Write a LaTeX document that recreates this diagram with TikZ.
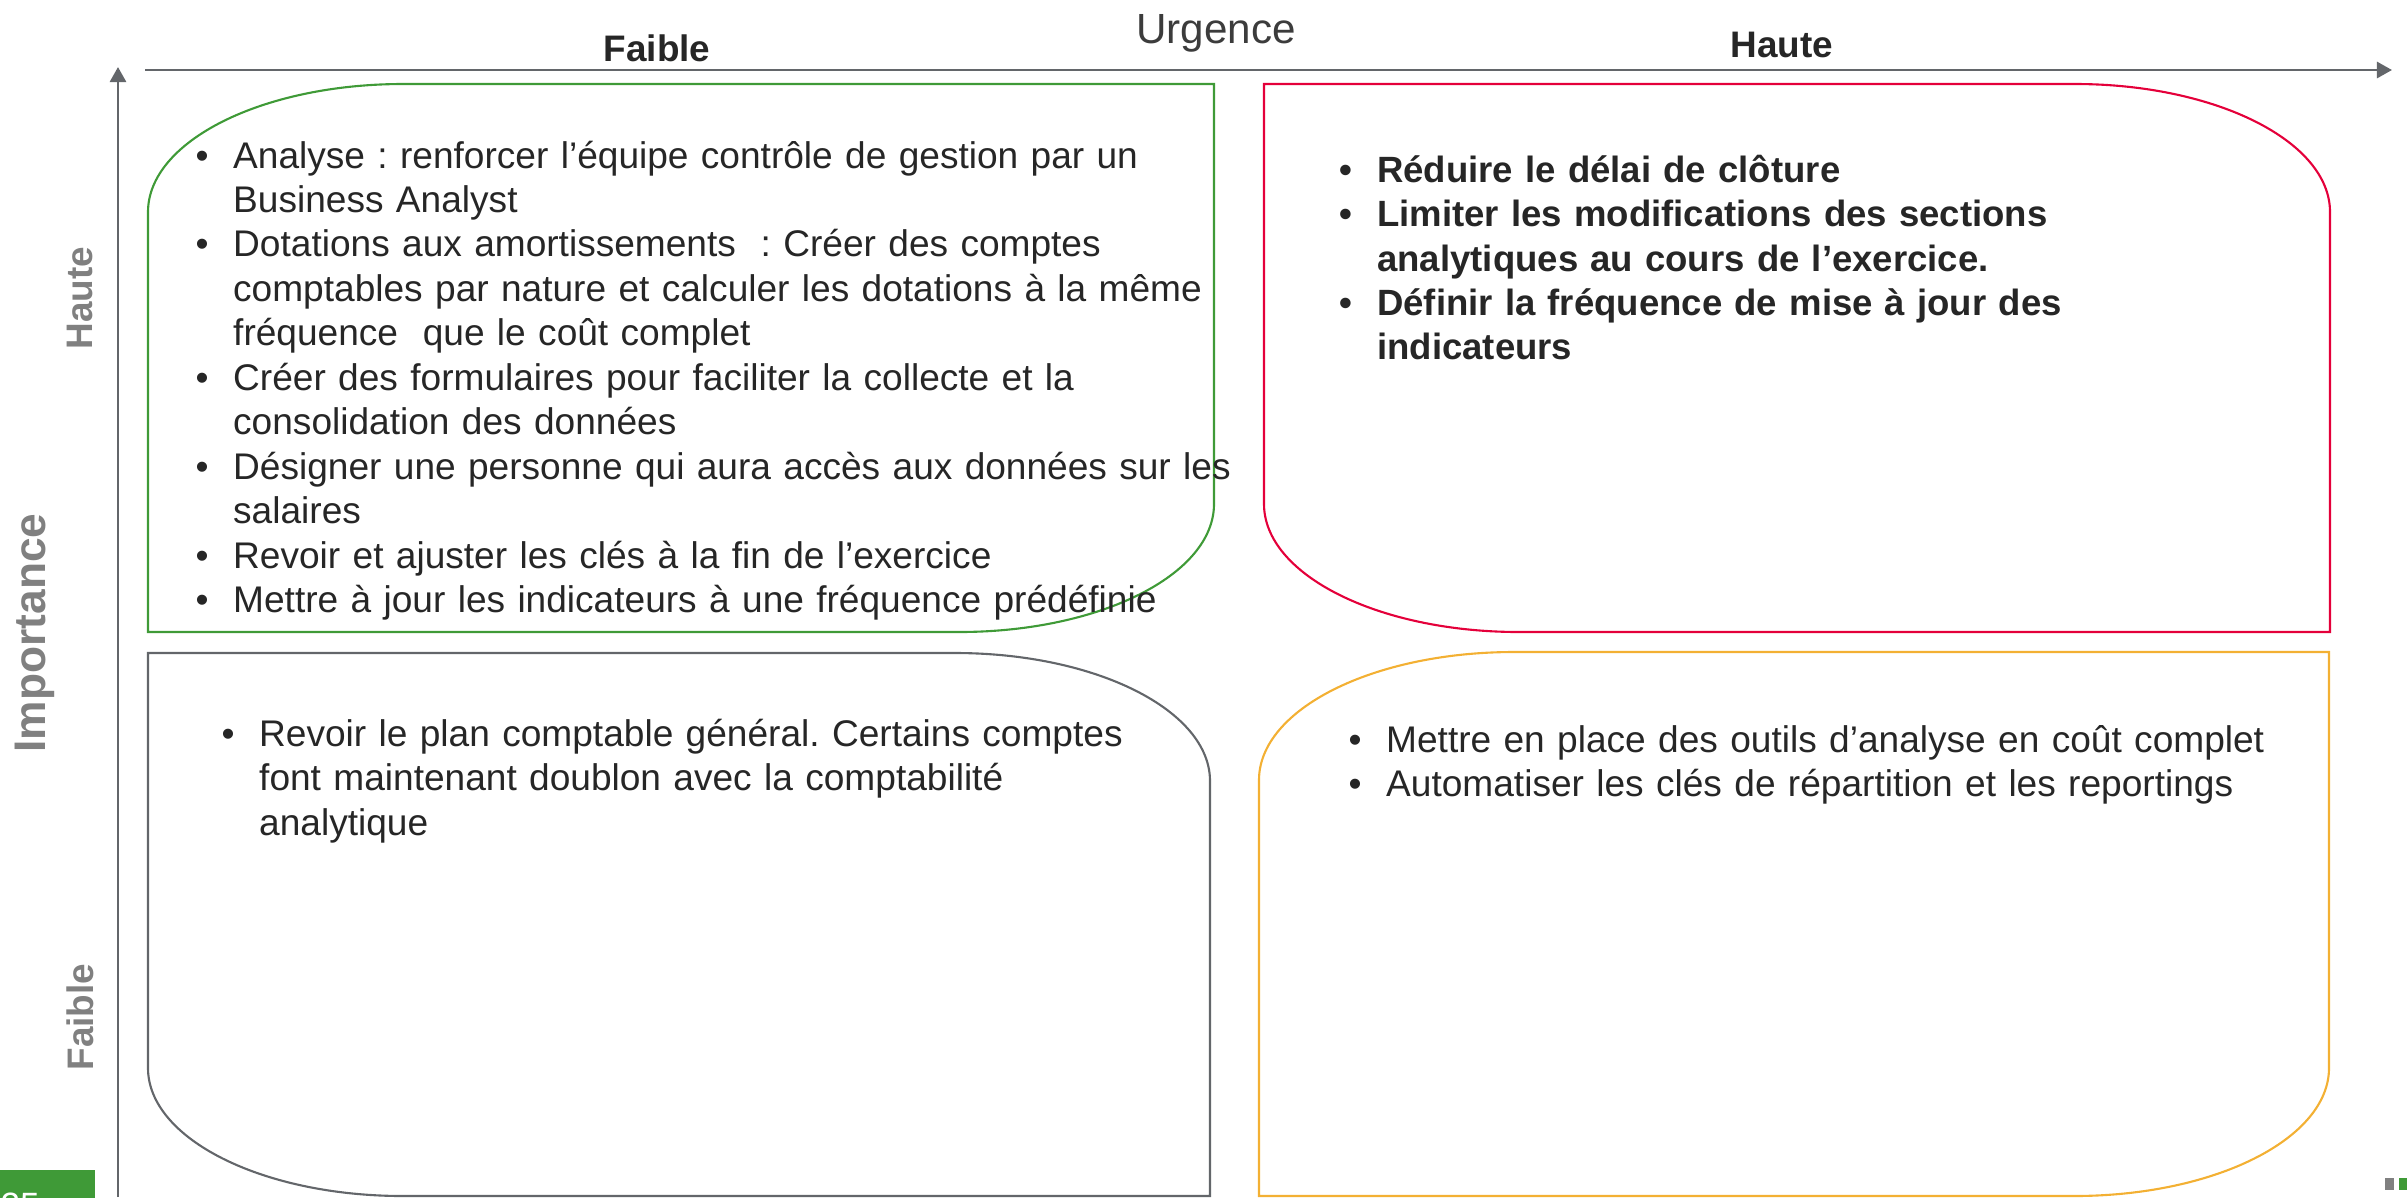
\documentclass[tikz,border=0pt]{standalone}
\usepackage{fontspec}
\setmainfont{Liberation Sans}
\usetikzlibrary{arrows.meta}
\definecolor{kgreen}{RGB}{63,154,55}
\definecolor{kred}{RGB}{228,0,58}
\definecolor{kgrey}{RGB}{99,102,106}
\definecolor{korange}{RGB}{243,176,51}
\definecolor{ktext}{RGB}{38,38,38}
\definecolor{klabel}{RGB}{128,128,128}
\frenchspacing
\newcommand{\bpoint}[1]{\hangindent=3.75mm\hangafter=1\noindent\makebox[3.75mm][l]{\textbullet}#1\par}
\tikzset{
  quad/.style={line width=0.6pt},
  qgreen/.style={quad, draw=kgreen}, qred/.style={quad, draw=kred},
  qgrey/.style={quad, draw=kgrey}, qorange/.style={quad, draw=korange},
  items/.style={anchor=base west, inner sep=0pt, text width=11cm, text=ktext,
    font=\fontsize{10.55}{12.66}\selectfont},
  axis/.style={draw=kgrey, line width=0.75pt, -{Triangle[length=4.3pt, width=4.6pt]}},
  toplabel/.style={inner sep=0pt, text=ktext, font=\fontsize{10.5}{12}\selectfont\bfseries},
  sidelabel/.style={inner sep=0pt, rotate=90, text=klabel, font=\fontsize{10.5}{12}\selectfont\bfseries},
}

\begin{document}
\begin{tikzpicture}
    \useasboundingbox (0,0) rectangle (24.07,-11.97);
    % axes
    \coordinate (vbot) at (1.18,-11.97);
    \coordinate (vtop) at (1.18,-0.67);
    \coordinate (hleft) at (1.45,-0.70);
    \coordinate (hright) at (23.92,-0.70);
    \draw[axis] (vbot) -- (vtop);
    \draw[axis] (hleft) -- (hright);
    \node[inner sep=0pt, text=ktext!90, font=\fontsize{12}{14}\selectfont] (urg) at (12.16,-0.33) {Urgence};
    \node[toplabel] (lowurg) at (6.57,-0.48) {Faible};
    \node[toplabel] (highurg) at (17.82,-0.45) {Haute};
    \node[sidelabel] (highimp) at (0.80,-2.98) {Haute};
    \node[sidelabel, font=\fontsize{12.6}{15}\selectfont\bfseries] (imp) at (0.35,-6.33) {Importance};
    \node[sidelabel] (lowimp) at (0.80,-10.17) {Faible};
    % quadrants
    \draw[qgreen] (1.48,-2.12) arc[start angle=180, end angle=90, x radius=2.55, y radius=1.28]
      -- (12.14,-0.84) -- (12.14,-5.04) arc[start angle=0, end angle=-90, x radius=2.55, y radius=1.28]
      -- (1.48,-6.32) -- cycle;
    \draw[qred] (12.64,-0.84) -- (20.75,-0.84) arc[start angle=90, end angle=0, x radius=2.55, y radius=1.28]
      -- (23.30,-6.32) -- (15.19,-6.32) arc[start angle=270, end angle=180, x radius=2.55, y radius=1.28]
      -- cycle;
    \draw[qgrey] (1.48,-6.53) -- (9.55,-6.53) arc[start angle=90, end angle=0, x radius=2.55, y radius=1.28]
      -- (12.10,-11.96) -- (4.03,-11.96) arc[start angle=270, end angle=180, x radius=2.55, y radius=1.28]
      -- cycle;
    \draw[qorange] (12.59,-7.80) arc[start angle=180, end angle=90, x radius=2.55, y radius=1.28]
      -- (23.29,-6.52) -- (23.29,-10.68) arc[start angle=0, end angle=-90, x radius=2.55, y radius=1.28]
      -- (12.59,-11.96) -- cycle;
    % texts
    \node[items] (quick) at (1.95,-1.68) {%
      \bpoint{Analyse : renforcer l’équipe contrôle de gestion par un\newline Business Analyst}
      \bpoint{Dotations aux amortissements\ \ : Créer des comptes\newline comptables par nature et calculer les dotations à la même\newline fréquence\ \ que le coût complet}
      \bpoint{Créer des formulaires pour faciliter la collecte et la\newline consolidation des données}
      \bpoint{Désigner une personne qui aura accès aux données sur les\newline salaires}
      \bpoint{Revoir et ajuster les clés à la fin de l’exercice}
      \bpoint{Mettre à jour les indicateurs à une fréquence prédéfinie}};
    \node[items, font=\fontsize{10.4}{12.66}\selectfont\bfseries] (urgent) at (13.39,-1.82) {%
      \bpoint{Réduire le délai de clôture}
      \bpoint{Limiter les modifications des sections\newline analytiques au cours de l’exercice.}
      \bpoint{Définir la fréquence de mise à jour des\newline indicateurs}};
    \node[items] (later) at (2.21,-7.46) {%
      \bpoint{Revoir le plan comptable général. Certains comptes\newline font maintenant doublon avec la comptabilité\newline analytique}};
    \node[items] (tools) at (13.48,-7.52) {%
      \bpoint{Mettre en place des outils d’analyse en coût complet}
      \bpoint{Automatiser les clés de répartition et les reportings}};
    % footer
    \fill[kgreen] (0,-11.70) rectangle (0.95,-12.30);
    \node[anchor=north west, inner sep=0pt, text=white, font=\fontsize{10}{12}\selectfont] (pagenum) at (0.0,-11.92) {25};
    \fill[klabel] (23.85,-11.78) rectangle (23.94,-11.90);
    \fill[kgreen] (23.99,-11.78) rectangle (24.07,-11.90);
  \end{tikzpicture}
\end{document}
